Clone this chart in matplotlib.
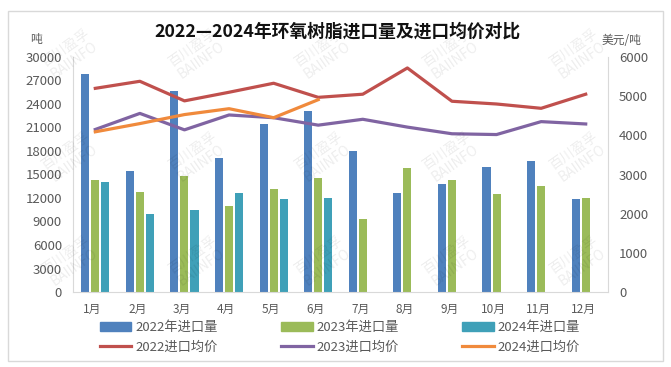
import matplotlib
matplotlib.use("Agg")
import matplotlib.pyplot as plt
import matplotlib.patches as mpatches
from matplotlib.lines import Line2D
import numpy as np

plt.rcParams['font.family'] = ['Noto Sans CJK SC', 'DejaVu Sans']

months = ['1月', '2月', '3月', '4月', '5月', '6月', '7月', '8月', '9月', '10月', '11月', '12月']
vol_2022 = [27800, 15400, 25700, 17050, 21450, 23100, 17950, 12650, 13850, 16000, 16750, 11850]
vol_2023 = [14300, 12800, 14750, 11000, 13100, 14600, 9300, 15800, 14300, 12500, 13550, 12000]
vol_2024 = [14000, 9900, 10500, 12600, 11900, 12000]
price_2022 = [5200, 5380, 4880, 5100, 5330, 4970, 5050, 5720, 4870, 4800, 4690, 5050]
price_2023 = [4150, 4560, 4140, 4520, 4450, 4260, 4410, 4210, 4040, 4020, 4350, 4290]
price_2024 = [4090, 4300, 4530, 4680, 4450, 4910]

left_ticks = list(range(0, 30001, 3000))
right_ticks = list(range(0, 6001, 1000))

c22b, c23b, c24b = '#4F81BD', '#9BBB59', '#3FA0B8'
c22l, c23l, c24l = '#C0504D', '#8064A2', '#F08A3C'
txt = '#595959'

W, H = 671, 367
fig = plt.figure(figsize=(W / 100, H / 100), dpi=100)
fig.patch.set_facecolor('white')

# outer border
fig.add_artist(mpatches.Rectangle((8 / W, 1 - 361 / H), (663 - 8) / W, (361 - 11) / H,
                                  transform=fig.transFigure, fill=False, ec='#D9D9D9', lw=1))

ax = fig.add_axes([73 / W, 1 - 292 / H, (608 - 73) / W, (292 - 57) / H])
x = np.arange(len(months))
bw = 0.18
off = 0.225
ax.bar(x - off, vol_2022, bw, color=c22b, zorder=2)
ax.bar(x, vol_2023, bw, color=c23b, zorder=2)
ax.bar(x[:len(vol_2024)] + off, vol_2024, bw, color=c24b, zorder=2)
ax.set_xlim(-0.5, 11.5)
ax.set_ylim(0, 30000)
ax.set_yticks(left_ticks)
ax.set_yticklabels([str(v) for v in left_ticks])
ax.set_xticks(x - 0.06)
ax.set_xticklabels(months)
ax.tick_params(axis='y', length=0, pad=8, labelsize=9.5, colors=txt)
ax.tick_params(axis='x', length=0, pad=8, labelsize=8.5, colors=txt)
ax.spines['top'].set_visible(False)
for s in ['left', 'right', 'bottom']:
    ax.spines[s].set_color('#D9D9D9')

ax2 = ax.twinx()
ax2.plot(x, price_2022, color=c22l, lw=2.3)
ax2.plot(x, price_2023, color=c23l, lw=2.3)
ax2.plot(x[:len(price_2024)], price_2024, color=c24l, lw=2.3)
ax2.set_ylim(0, 6000)
ax2.set_yticks(right_ticks)
ax2.set_yticklabels([str(v) for v in right_ticks])
ax2.tick_params(axis='y', length=0, pad=8, labelsize=9.5, colors=txt)
for s in ax2.spines.values():
    s.set_visible(False)

fig.text(337 / W, 1 - 32 / H, '2022—2024年环氧树脂进口量及进口均价对比',
         ha='center', va='center', fontsize=12.8, fontweight='bold', color='#111111')
fig.text(36 / W, 1 - 40 / H, '吨', ha='center', va='center', fontsize=8.5, color=txt)
fig.text(621 / W, 1 - 40 / H, '美元/吨', ha='center', va='center', fontsize=8.5, color=txt)

handles = [
    mpatches.Patch(color=c22b, label='2022年进口量'),
    Line2D([], [], color=c22l, lw=2.3, label='2022进口均价'),
    mpatches.Patch(color=c23b, label='2023年进口量'),
    Line2D([], [], color=c23l, lw=2.3, label='2023进口均价'),
    mpatches.Patch(color=c24b, label='2024年进口量'),
    Line2D([], [], color=c24l, lw=2.3, label='2024进口均价'),
]
fig.legend(handles=handles, ncol=3, loc='center', bbox_to_anchor=(340 / W, 1 - 337.5 / H),
           frameon=False, fontsize=9.5, handlelength=2.4, handleheight=0.7,
           handletextpad=0.3, columnspacing=4.8, labelspacing=0.5, labelcolor=txt)

# watermarks
for yy in [55, 158, 262]:
    for xx in [70, 197, 323, 451, 578]:
        fig.text(xx / W, 1 - yy / H, '百川盈孚\nBAIINFO', ha='center', va='center',
                 rotation=35, fontsize=10, color='#000000', alpha=0.07,
                 linespacing=1.0, zorder=0.5)

fig.savefig('out.png', dpi=100, facecolor='white')
